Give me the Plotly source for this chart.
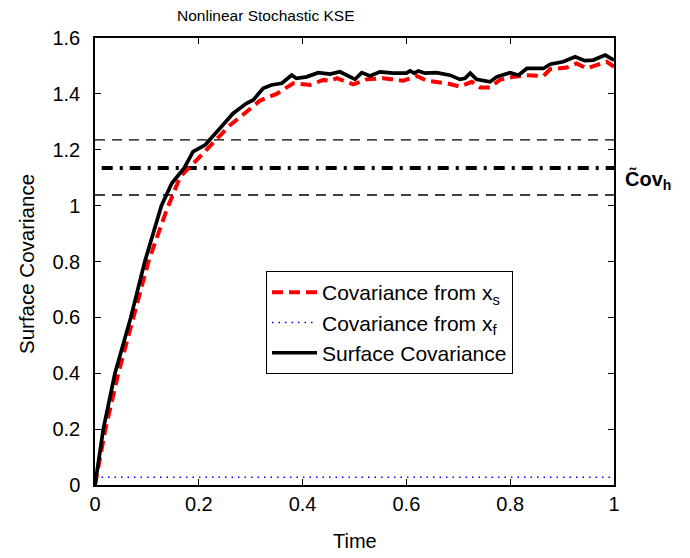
import plotly.graph_objects as go

# ---- data ----
t_surface = [0, 0.016, 0.0385, 0.069, 0.096, 0.128, 0.148, 0.172, 0.189, 0.212, 0.24, 0.266,
             0.292, 0.305, 0.324, 0.34, 0.36, 0.379, 0.388, 0.408, 0.43, 0.453, 0.472, 0.501,
             0.514, 0.53, 0.549, 0.575, 0.60, 0.607, 0.615, 0.623, 0.636, 0.658, 0.684, 0.703,
             0.713, 0.723, 0.735, 0.761, 0.774, 0.80, 0.816, 0.832, 0.864, 0.877, 0.902, 0.925,
             0.944, 0.96, 0.983, 1.0]
cov_surface = [0, 0.2, 0.4, 0.6, 0.8, 1.0, 1.08, 1.135, 1.193, 1.217, 1.275, 1.33,
               1.366, 1.378, 1.42, 1.432, 1.438, 1.467, 1.456, 1.461, 1.476, 1.471, 1.479, 1.452,
               1.476, 1.464, 1.479, 1.474, 1.474, 1.482, 1.474, 1.482, 1.474, 1.476, 1.467, 1.452,
               1.456, 1.474, 1.452, 1.443, 1.461, 1.476, 1.467, 1.491, 1.491, 1.506, 1.515, 1.533,
               1.519, 1.521, 1.539, 1.521]

t_xs = [0, 0.02, 0.045, 0.075, 0.103, 0.138, 0.164, 0.202, 0.234, 0.26, 0.292, 0.318, 0.35,
        0.382, 0.414, 0.44, 0.453, 0.466, 0.498, 0.523, 0.555, 0.594, 0.62, 0.639, 0.678, 0.703,
        0.726, 0.742, 0.761, 0.78, 0.806, 0.832, 0.864, 0.877, 0.909, 0.928, 0.947, 0.967,
        0.986, 1.0]
cov_xs = [0, 0.2, 0.4, 0.6, 0.8, 0.984, 1.103, 1.175, 1.235, 1.288, 1.336, 1.376, 1.40,
          1.438, 1.432, 1.45, 1.447, 1.456, 1.434, 1.452, 1.456, 1.447, 1.464, 1.447, 1.438, 1.426,
          1.443, 1.423, 1.423, 1.45, 1.461, 1.467, 1.464, 1.488, 1.494, 1.509, 1.491, 1.503,
          1.515, 1.497]

t_xf = [0, 1.0]
cov_xf = [0.028, 0.028]

cov_h_mean = 1.135
cov_h_upper = 1.235
cov_h_lower = 1.038
x_range = [0, 1]

x_ticks = [0, 0.2, 0.4, 0.6, 0.8, 1]
x_tick_labels = ["0", "0.2", "0.4", "0.6", "0.8", "1"]
y_ticks = [0, 0.2, 0.4, 0.6, 0.8, 1.0, 1.2, 1.4, 1.6]
y_tick_labels = ["0", "0.2", "0.4", "0.6", "0.8", "1", "1.2", "1.4", "1.6"]

FONT = "Liberation Sans, Arial, Helvetica, sans-serif"

fig = go.Figure()

# reference band lines
fig.add_trace(go.Scatter(x=x_range, y=[cov_h_upper] * 2, mode="lines",
                         line=dict(color="black", width=1.3, dash="10px,7px"),
                         showlegend=False, hoverinfo="skip"))
fig.add_trace(go.Scatter(x=x_range, y=[cov_h_lower] * 2, mode="lines",
                         line=dict(color="black", width=1.3, dash="10px,7px"),
                         showlegend=False, hoverinfo="skip"))
fig.add_trace(go.Scatter(x=[0.013, 1], y=[cov_h_mean] * 2, mode="lines",
                         line=dict(color="black", width=4, dash="11px,7px,3px,7px"),
                         showlegend=False, hoverinfo="skip"))

fig.add_trace(go.Scatter(x=t_xs, y=cov_xs, mode="lines", name="Covariance from x<sub>s</sub>",
                         line=dict(color="#ff0000", width=4, dash="11px,6px")))
fig.add_trace(go.Scatter(x=t_xf, y=cov_xf, mode="lines", name="Covariance from x<sub>f</sub>",
                         line=dict(color="#0000ff", width=1.5, dash="1.5px,5px")))
fig.add_trace(go.Scatter(x=t_surface, y=cov_surface, mode="lines", name="Surface Covariance",
                         line=dict(color="black", width=3.7)))

axis_common = dict(showline=True, linecolor="black", linewidth=1.5, mirror="allticks",
                   ticks="inside", ticklen=6, tickwidth=1, tickcolor="black",
                   showgrid=False, zeroline=False,
                   tickfont=dict(family=FONT, size=20, color="black"))

fig.update_xaxes(range=x_range, tickvals=x_ticks, ticktext=x_tick_labels, **axis_common)
fig.update_yaxes(range=[0, 1.6], tickvals=y_ticks, ticktext=y_tick_labels,
                 ticklabelstandoff=9, **axis_common)

# page body has an 8px margin, so margins are shifted by 8px
fig.update_layout(
    width=690, height=558,
    margin=dict(l=87, r=84, t=30, b=81),
    paper_bgcolor="white", plot_bgcolor="white",
    font=dict(family=FONT, color="black"),
    showlegend=True,
    legend=dict(x=0.3295, y=0.4787, xanchor="left", yanchor="top",
                bgcolor="white", bordercolor="black", borderwidth=1,
                font=dict(family=FONT, size=21, color="black"),
                itemwidth=45, tracegroupgap=0),
    annotations=[
        dict(text="Nonlinear Stochastic KSE", xref="paper", yref="paper",
             x=(175 - 95) / 519, y=1 + (38 - 15) / 447, xanchor="left", yanchor="middle",
             showarrow=False, font=dict(family=FONT, size=15.5, color="black")),
        dict(text="Time", xref="paper", yref="paper", x=0.5, y=-(541 - 485) / 447,
             xanchor="center", yanchor="middle", showarrow=False,
             font=dict(family=FONT, size=20, color="black")),
        dict(text="Surface Covariance", xref="paper", yref="paper",
             x=-(95 - 26) / 519, y=(485 - 264) / 447, xanchor="center", yanchor="middle",
             textangle=-90, showarrow=False, font=dict(family=FONT, size=20.5, color="black")),
        dict(text="<b>C\u0303ov<sub>h</sub></b>", xref="paper", yref="paper",
             x=(623 - 95) / 519, y=(485 - 180) / 447, xanchor="left", yanchor="middle",
             showarrow=False, font=dict(family=FONT, size=20, color="black")),
    ],
)

fig.write_html("out.html")
